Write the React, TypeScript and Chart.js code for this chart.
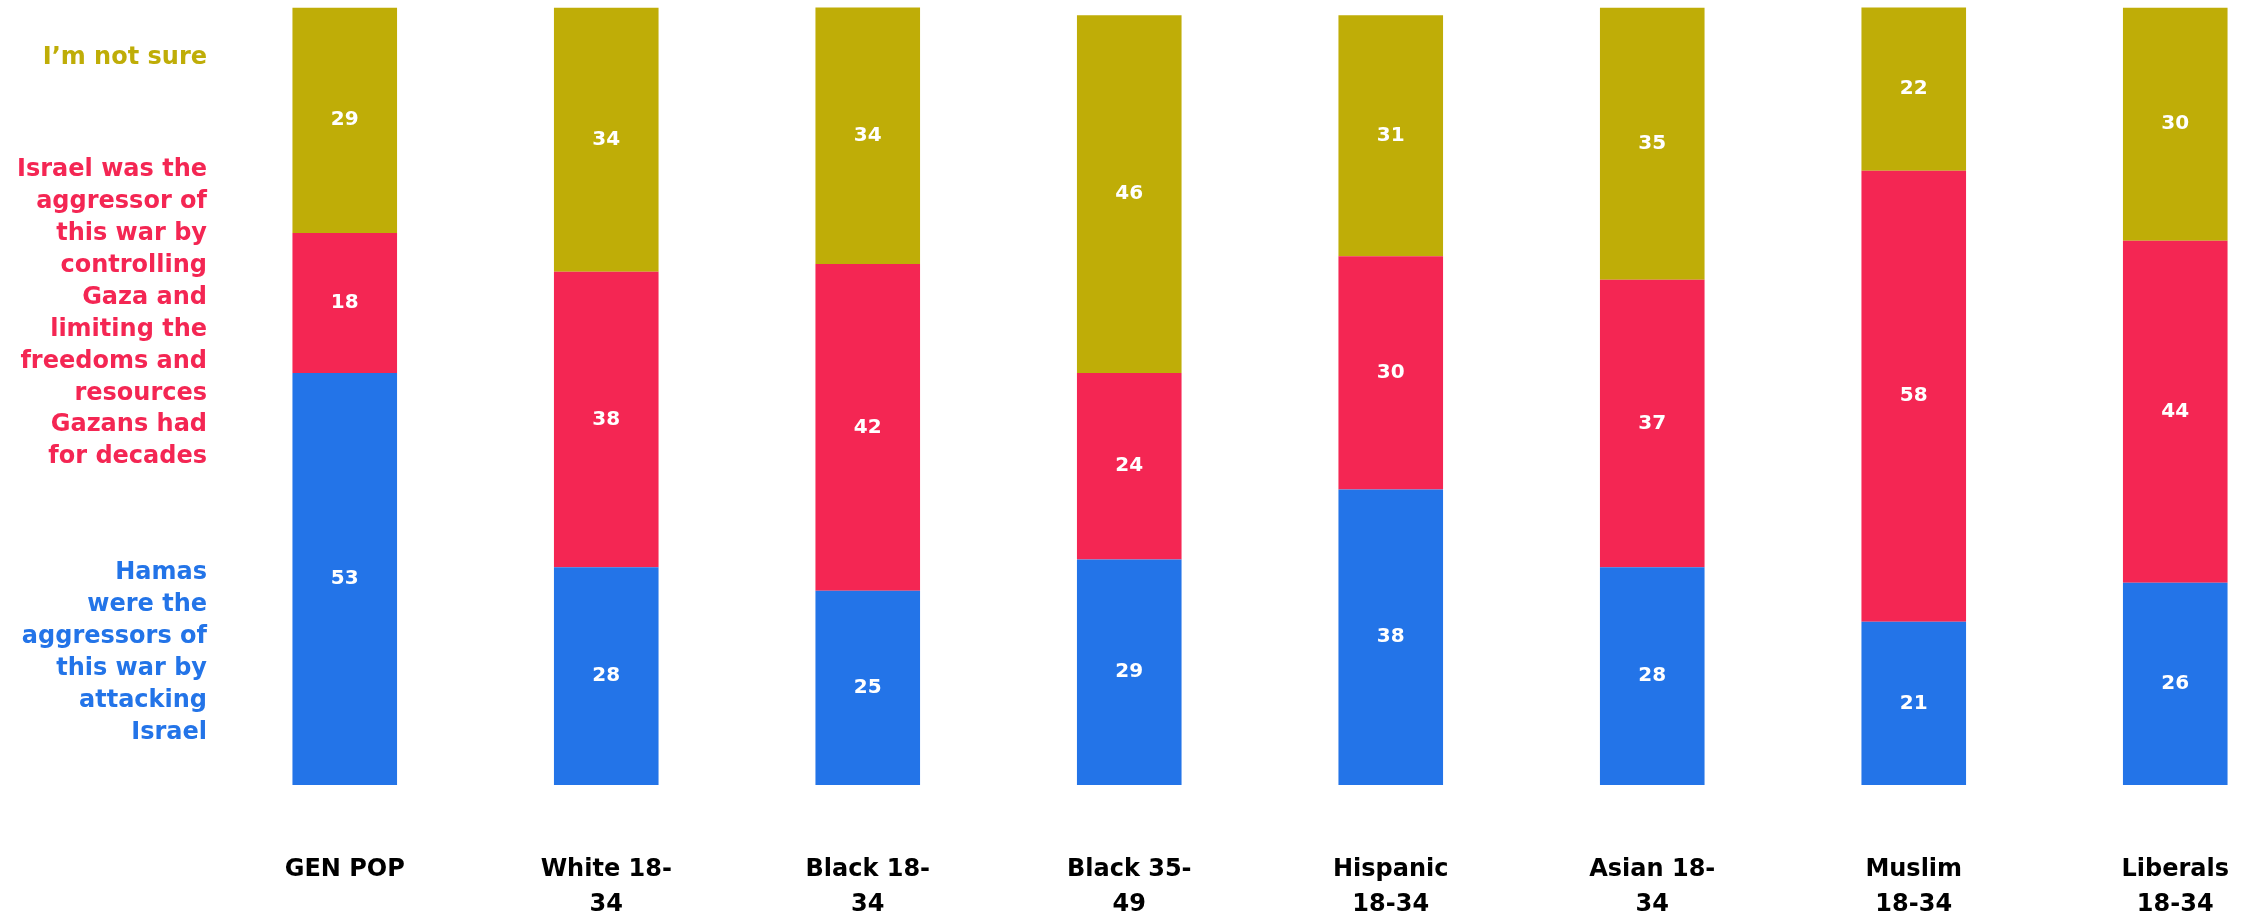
import React, { useEffect, useRef } from "react";
import { Chart, registerables } from "chart.js";

Chart.register(...registerables);

// ---------- data ----------
const categories: string[][] = [
  ["GEN POP"],
  ["White 18-", "34"],
  ["Black 18-", "34"],
  ["Black 35-", "49"],
  ["Hispanic", "18-34"],
  ["Asian 18-", "34"],
  ["Muslim", "18-34"],
  ["Liberals", "18-34"],
];
const hamasValues = [53, 28, 25, 29, 38, 28, 21, 26];
const israelValues = [18, 38, 42, 24, 30, 37, 58, 44];
const notSureValues = [29, 34, 34, 46, 31, 35, 22, 30];

const hamasLines = ["Hamas", "were the", "aggressors of", "this war by", "attacking", "Israel"];
const israelLines = [
  "Israel was the",
  "aggressor of",
  "this war by",
  "controlling",
  "Gaza and",
  "limiting the",
  "freedoms and",
  "resources",
  "Gazans had",
  "for decades",
];
const notSureLines = ["I’m not sure"];

// ---------- style ----------
const BLUE = "#2374E8";
const RED = "#F42653";
const YELLOW = "#BFAD07";
const FONT = "'DejaVu Sans'";

const legendBlocks = [
  { lines: notSureLines, color: YELLOW, y: 58 },
  { lines: israelLines, color: RED, y: 170 },
  { lines: hamasLines, color: BLUE, y: 573 },
];

const sideLegendPlugin = {
  id: "sideLegend",
  afterDraw(chart: any) {
    const ctx = chart.ctx;
    ctx.save();
    ctx.font = `bold 24px ${FONT}`;
    ctx.textAlign = "right";
    ctx.textBaseline = "middle";
    legendBlocks.forEach((b) => {
      ctx.fillStyle = b.color;
      b.lines.forEach((line, i) => ctx.fillText(line, 207, b.y + i * 31.9));
    });
    ctx.restore();
  },
};

const valueLabelPlugin = {
  id: "valueLabels",
  afterDatasetsDraw(chart: any) {
    const ctx = chart.ctx;
    ctx.save();
    ctx.font = `bold 20px ${FONT}`;
    ctx.fillStyle = "#ffffff";
    ctx.textAlign = "center";
    ctx.textBaseline = "middle";
    const top = chart.chartArea.top;
    chart.data.datasets.forEach((ds: any, di: number) => {
      const meta = chart.getDatasetMeta(di);
      meta.data.forEach((el: any, i: number) => {
        const y1 = Math.max(el.y, top);
        const y = (y1 + el.base) / 2;
        ctx.fillText(String(ds.data[i]), el.x, y);
      });
    });
    ctx.restore();
  },
};

export default function App() {
  const ref = useRef<HTMLCanvasElement | null>(null);

  useEffect(() => {
    if (!ref.current) return;
    const chart = new Chart(ref.current, {
      type: "bar",
      data: {
        labels: categories,
        datasets: [
          { label: hamasLines.join(" "), data: hamasValues, backgroundColor: BLUE, clip: 0 },
          { label: israelLines.join(" "), data: israelValues, backgroundColor: RED, clip: 0 },
          { label: notSureLines.join(" "), data: notSureValues, backgroundColor: YELLOW, clip: 0 },
        ],
      },
      options: {
        responsive: false,
        animation: false,
        devicePixelRatio: 1,
        layout: { padding: { left: 214, right: 24, top: 7.5, bottom: 0 } },
        datasets: { bar: { barPercentage: 0.8, categoryPercentage: 0.5, borderWidth: 0 } },
        plugins: { legend: { display: false }, tooltip: { enabled: false }, title: { display: false } },
        scales: {
          x: {
            stacked: true,
            grid: { display: false },
            border: { display: false },
            ticks: {
              autoSkip: false,
              maxRotation: 0,
              minRotation: 0,
              padding: 59,
              color: "#000000",
              font: { family: FONT, size: 24, weight: "bold", lineHeight: 1.46 },
            },
            afterFit: (scale: any) => {
              scale.height = 145;
            },
          },
          y: {
            stacked: true,
            display: false,
            min: 0,
            max: 100,
          },
        },
      },
      plugins: [sideLegendPlugin, valueLabelPlugin],
    } as any);
    return () => chart.destroy();
  }, []);

  return (
    <div
      style={{
        position: "absolute",
        left: 0,
        top: 0,
        width: 2256,
        height: 914,
        overflow: "hidden",
        background: "#ffffff",
      }}
    >
      <canvas ref={ref} width={2330} height={930} style={{ display: "block" }} />
    </div>
  );
}
